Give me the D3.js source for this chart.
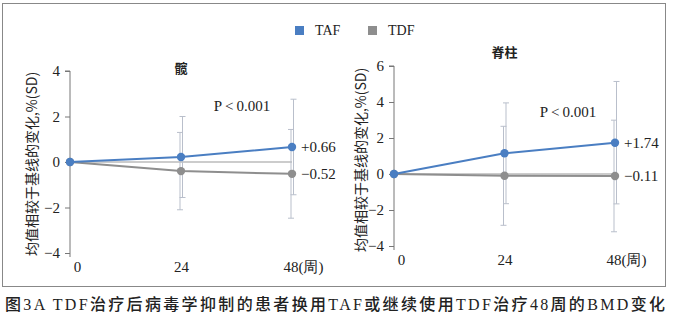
<!DOCTYPE html>
<html>
<head>
<meta charset="utf-8">
<script src="https://cdn.jsdelivr.net/npm/d3@7"></script>
<style>
  body { margin: 0; background: #fff; }
  svg { display: block; }
</style>
</head>
<body>
<svg width="673" height="326"></svg>
<script>
// данные
const weeks = [0, 24, 48];
const seriesNames = ["TAF", "TDF"];

// 髋
const hipTAF   = [0, 0.22, 0.66];
const hipTAFsd = [0, 1.78, 2.1];
const hipTDF   = [0, -0.4, -0.52];
const hipTDFsd = [0, 1.7, 1.95];

// 脊柱
const spineTAF   = [0, 1.15, 1.74];
const spineTAFsd = [0, 2.8, 3.4];
const spineTDF   = [0, -0.1, -0.11];
const spineTDFsd = [0, 2.75, 3.1];

const hipTicks = [-4, -2, 0, 2, 4];
const spineTicks = [-4, -2, 0, 2, 4, 6];
const endLabelsHip = ["+0.66", "\u22120.52"];
const endLabelsSpine = ["+1.74", "\u22120.11"];

const colors = { TAF: "#4a7ec2", TDF: "#8e8e8e" };
const serif = "Liberation Serif, DejaVu Serif, serif";
const cjk = "Noto Sans CJK SC, sans-serif";

const svg = d3.select("svg");

// рамка
svg.append("rect")
    .attr("x", 2.5).attr("y", 3.5)
    .attr("width", 663).attr("height", 283)
    .attr("fill", "none").attr("stroke", "#888").attr("stroke-width", 1);

// легенда
const legend = svg.append("g");
seriesNames.forEach((name, i) => {
    const lx = 295 + i * 73;
    legend.append("rect")
        .attr("x", lx).attr("y", 26).attr("width", 9).attr("height", 9)
        .attr("fill", colors[name]);
    legend.append("text")
        .attr("x", lx + 20).attr("y", 35)
        .style("font-family", serif).attr("font-size", 14).attr("fill", "#222")
        .text(name);
});

function drawPanel(opt) {
    const x = d3.scaleLinear().domain([0, 48]).range(opt.xRange);
    const y = d3.scaleLinear().domain(d3.extent(opt.ticks)).range(opt.yRange);
    const g = svg.append("g");

    // ось Y
    const yAxis = g.append("g")
        .attr("transform", `translate(${opt.xRange[0]},0)`)
        .call(d3.axisLeft(y).tickValues(opt.ticks).tickSize(5).tickPadding(5)
            .tickFormat(d => d < 0 ? "\u2212" + Math.abs(d) : d));
    yAxis.select(".domain").attr("stroke", "#777").attr("d",
        `M-5,${y(opt.ticks[opt.ticks.length - 1])}H0V${opt.yRange[0] + 4}`);
    yAxis.selectAll(".tick line").attr("stroke", "#777");
    yAxis.selectAll(".tick text")
        .style("font-family", serif).attr("font-size", 15).attr("fill", "#222");

    // подписи оси X (без линии)
    const xAxis = g.append("g")
        .attr("transform", `translate(0,${opt.yRange[0] + 8})`)
        .call(d3.axisBottom(x).tickValues(weeks).tickSize(0).tickPadding(0)
            .tickFormat(d => d === 48 ? "48(周)" : d));
    xAxis.select(".domain").remove();
    xAxis.selectAll(".tick text")
        .style("font-family", serif).attr("font-size", 15).attr("fill", "#222")
        .attr("dy", "0.71em")
        .attr("text-anchor", d => d === 48 ? "start" : "middle")
        .attr("dx", d => d === 0 ? 7 : d === 48 ? -9 : 0);

    // название оси
    g.append("text")
        .attr("transform", `translate(${opt.titleX},${opt.titleY}) rotate(-90)`)
        .attr("text-anchor", "middle").attr("dy", "0.35em")
        .style("font-family", cjk).attr("font-size", 14).attr("fill", "#222")
        .text("均值相较于基线的变化,%(SD)");

    // заголовок панели
    g.append("text")
        .attr("x", x(24)).attr("y", opt.headY)
        .attr("text-anchor", "middle")
        .style("font-family", cjk).attr("font-size", 13).attr("font-weight", "bold").attr("fill", "#222")
        .text(opt.title);

    // нулевая линия
    g.append("line")
        .attr("x1", x(0)).attr("x2", x(48))
        .attr("y1", y(0)).attr("y2", y(0))
        .attr("stroke", "#999").attr("stroke-width", 1);

    const series = [
        { name: "TAF", vals: opt.taf, sd: opt.tafSd, off: 1.5 },
        { name: "TDF", vals: opt.tdf, sd: opt.tdfSd, off: -1 }
    ];

    // планки погрешностей
    series.forEach(s => {
        weeks.forEach((w, i) => {
            if (!s.sd[i]) return;
            const cx = x(w) + s.off;
            const top = y(s.vals[i] + s.sd[i]);
            const bot = y(s.vals[i] - s.sd[i]);
            g.append("line").attr("x1", cx).attr("x2", cx).attr("y1", top).attr("y2", bot)
                .attr("stroke", "#b9bfcb").attr("stroke-width", 1);
            [top, bot].forEach(yy => {
                g.append("line").attr("x1", cx - 3).attr("x2", cx + 3).attr("y1", yy).attr("y2", yy)
                    .attr("stroke", "#b9bfcb").attr("stroke-width", 1);
            });
        });
    });

    const line = d3.line().x((d, i) => x(weeks[i])).y(d => y(d));

    // линии и точки (TDF снизу)
    [series[1], series[0]].forEach(s => {
        g.append("path")
            .attr("d", line(s.vals))
            .attr("fill", "none").attr("stroke", colors[s.name]).attr("stroke-width", 2);
        g.selectAll(null).data(s.vals).enter().append("circle")
            .attr("cx", (d, i) => x(weeks[i])).attr("cy", d => y(d)).attr("r", 4.2)
            .attr("fill", colors[s.name]);
    });

    // подписи значений
    series.forEach((s, k) => {
        g.append("text")
            .attr("x", x(48) + 9).attr("y", y(s.vals[2]))
            .attr("dy", "0.35em")
            .style("font-family", serif).attr("font-size", 15).attr("fill", "#222")
            .text(opt.endLabels[k]);
    });

    // P-значение
    g.append("text")
        .attr("x", opt.pPos[0]).attr("y", opt.pPos[1])
        .attr("text-anchor", "middle")
        .style("font-family", serif).attr("font-size", 15).attr("fill", "#222")
        .text("P\u2009<\u20090.001");
}

drawPanel({
    xRange: [70, 292], yRange: [253, 71], ticks: hipTicks,
    title: "髋", headY: 73, titleX: 32, titleY: 164,
    taf: hipTAF, tafSd: hipTAFsd, tdf: hipTDF, tdfSd: hipTDFsd,
    endLabels: endLabelsHip, pPos: [242, 111]
});

drawPanel({
    xRange: [394, 615], yRange: [246, 66], ticks: spineTicks,
    title: "脊柱", headY: 57, titleX: 361, titleY: 160,
    taf: spineTAF, tafSd: spineTAFsd, tdf: spineTDF, tdfSd: spineTDFsd,
    endLabels: endLabelsSpine, pPos: [568, 117]
});

// подпись рисунка
svg.append("text")
    .attr("x", 5).attr("y", 310)
    .attr("textLength", 660).attr("lengthAdjust", "spacing")
    .style("font-family", "Liberation Serif, Noto Sans CJK SC, serif")
    .attr("font-size", 16).attr("font-weight", 500).attr("fill", "#222")
    .text("图3A  TDF治疗后病毒学抑制的患者换用TAF或继续使用TDF治疗48周的BMD变化");
</script>
</body>
</html>
